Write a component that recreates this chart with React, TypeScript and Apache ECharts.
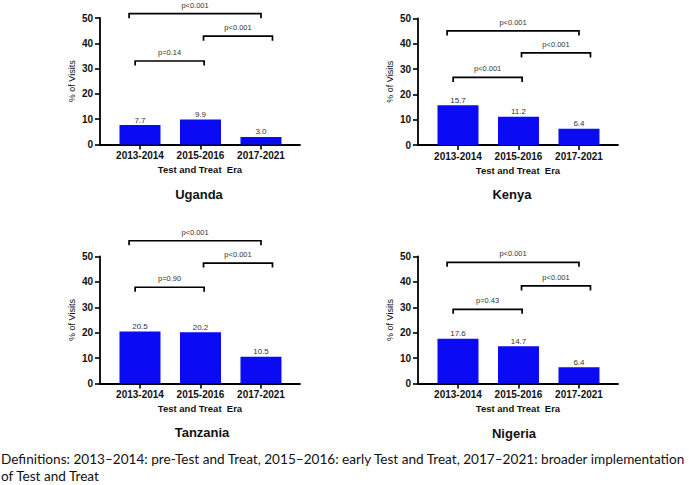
import React, { useEffect, useRef } from "react";
import * as echarts from "echarts";

const categories = ["2013-2014", "2015-2016", "2017-2021"];

const ugandaValues = [7.7, 9.9, 3.0];
const kenyaValues = [15.7, 11.2, 6.4];
const tanzaniaValues = [20.5, 20.2, 10.5];
const nigeriaValues = [17.6, 14.7, 6.4];

// comparisons: 1 vs 2, 2 vs 3, 1 vs 3
const ugandaPLabels = ["p=0.14", "p<0.001", "p<0.001"];
const kenyaPLabels = ["p<0.001", "p<0.001", "p<0.001"];
const tanzaniaPLabels = ["p=0.90", "p<0.001", "p<0.001"];
const nigeriaPLabels = ["p=0.43", "p<0.001", "p<0.001"];

// bracket heights (in % of visits units)
const ugandaBracketHeights = [33.0, 42.8, 51.7];
const kenyaBracketHeights = [26.7, 36.4, 45.1];
const tanzaniaBracketHeights = [37.9, 47.4, 56.2];
const nigeriaBracketHeights = [29.2, 38.4, 47.7];

// bracket spans in category units
const bracketStarts = [-0.08, 1.05, -0.18];
const bracketEnds = [1.06, 2.19, 2.0];

const yTicks = [0, 10, 20, 30, 40, 50];

const FONT = "'Liberation Sans', Arial, Helvetica, sans-serif";

const panels = [
  { name: "Uganda", values: ugandaValues, p: ugandaPLabels, h: ugandaBracketHeights, left: 100, top: 18, height: 126.5, titleX: 199, titleY: 196 },
  { name: "Kenya", values: kenyaValues, p: kenyaPLabels, h: kenyaBracketHeights, left: 418, top: 18.5, height: 126.5, titleX: 512, titleY: 196 },
  { name: "Tanzania", values: tanzaniaValues, p: tanzaniaPLabels, h: tanzaniaBracketHeights, left: 100, top: 256.5, height: 127, titleX: 202, titleY: 434 },
  { name: "Nigeria", values: nigeriaValues, p: nigeriaPLabels, h: nigeriaBracketHeights, left: 418, top: 256.5, height: 127, titleX: 514, titleY: 435 },
];

const X_MIN = -0.661;
const X_MAX = 2.645;

export default function App() {
  const ref = useRef<HTMLDivElement>(null);

  useEffect(() => {
    if (!ref.current) return;
    const chart = echarts.init(ref.current, undefined, { renderer: "svg" });

    const grids: any[] = [];
    const xAxes: any[] = [];
    const yAxes: any[] = [];
    const series: any[] = [];
    const titles: any[] = [];

    panels.forEach((pn, i) => {
      grids.push({ left: pn.left, top: pn.top, width: 200, height: pn.height, containLabel: false });
      xAxes.push({
        gridIndex: i,
        type: "value",
        min: X_MIN,
        max: X_MAX,
        name: "Test and Treat  Era",
        nameLocation: "middle",
        nameGap: 20,
        nameTextStyle: { fontFamily: FONT, fontSize: 9.5, fontWeight: "bold", color: "#111" },
        axisLine: { show: true, onZero: false, lineStyle: { color: "#000", width: 1.8 } },
        axisTick: { show: true, length: 5, lineStyle: { color: "#000", width: 1.6 }, customValues: [0, 1, 2] },
        axisLabel: {
          customValues: [0, 1, 2],
          formatter: (v: number) => categories[Math.round(v)] ?? "",
          fontFamily: FONT,
          fontSize: 10,
          fontWeight: "bold",
          color: "#111",
          margin: 6,
        },
        splitLine: { show: false },
      });
      yAxes.push({
        gridIndex: i,
        type: "value",
        min: 0,
        max: 50,
        interval: 10,
        name: "% of Visits",
        nameLocation: "middle",
        nameGap: 24,
        nameRotate: 90,
        nameTextStyle: { fontFamily: FONT, fontSize: 9, color: "#111" },
        axisLine: { show: true, onZero: false, lineStyle: { color: "#000", width: 1.8 } },
        axisTick: { show: true, length: 5, lineStyle: { color: "#000", width: 1.6 } },
        axisLabel: {
          fontFamily: FONT,
          fontSize: 10,
          fontWeight: "bold",
          color: "#111",
          margin: 7,
          formatter: (v: number) => (yTicks.includes(v) ? String(v) : ""),
        },
        splitLine: { show: false },
      });
      series.push({
        type: "bar",
        xAxisIndex: i,
        yAxisIndex: i,
        barWidth: 41,
        data: pn.values.map((v, k) => [k, v]),
        itemStyle: { color: "#0a0af5" },
        label: {
          show: true,
          position: "top",
          distance: 1,
          fontFamily: FONT,
          fontSize: 8,
          color: "#333",
          formatter: (p: any) => Number(p.value[1]).toFixed(1),
        },
      });
      const bdata = pn.h.map((h, k) => [bracketStarts[k], bracketEnds[k], h]);
      const labels = pn.p;
      series.push({
        type: "custom",
        xAxisIndex: i,
        yAxisIndex: i,
        clip: false,
        encode: { x: [0, 1], y: 2 },
        data: bdata,
        renderItem: (params: any, api: any) => {
          const a = api.coord([api.value(0), api.value(2)]);
          const b = api.coord([api.value(1), api.value(2)]);
          const drop = 4.5;
          return {
            type: "group",
            children: [
              {
                type: "polyline",
                shape: { points: [[a[0], a[1] + drop], [a[0], a[1]], [b[0], b[1]], [b[0], b[1] + drop]] },
                style: { stroke: "#000", fill: null, lineWidth: 1.7 },
              },
              {
                type: "text",
                x: (a[0] + b[0]) / 2,
                y: a[1] - 8.5,
                style: {
                  text: labels[params.dataIndex],
                  align: "center",
                  verticalAlign: "middle",
                  fontFamily: FONT,
                  fontSize: 7.5,
                  fill: "#333",
                },
              },
            ],
          };
        },
      });
      titles.push({
        text: pn.name,
        left: pn.titleX,
        top: pn.titleY - 8,
        textAlign: "center",
        textStyle: { fontFamily: FONT, fontSize: 13, fontWeight: "bold", color: "#111" },
        padding: 0,
      });
    });

    chart.setOption({
      animation: false,
      backgroundColor: "#ffffff",
      title: titles,
      grid: grids,
      xAxis: xAxes,
      yAxis: yAxes,
      series,
      graphic: [
        {
          type: "text",
          left: 1,
          top: 452,
          style: {
            text: "Definitions: 2013–2014: pre-Test and Treat, 2015–2016: early Test and Treat, 2017–2021: broader implementation",
            fontFamily: "Lato, 'Open Sans', sans-serif",
            fontSize: 13.6,
            fill: "#111",
          },
        },
        {
          type: "text",
          left: 1,
          top: 469,
          style: {
            text: "of Test and Treat",
            fontFamily: "Lato, 'Open Sans', sans-serif",
            fontSize: 13.6,
            fill: "#111",
          },
        },
      ],
    });

    return () => chart.dispose();
  }, []);

  return (
    <div
      ref={ref}
      style={{ position: "fixed", left: 0, top: 0, width: 689, height: 485, background: "#fff" }}
    />
  );
}
